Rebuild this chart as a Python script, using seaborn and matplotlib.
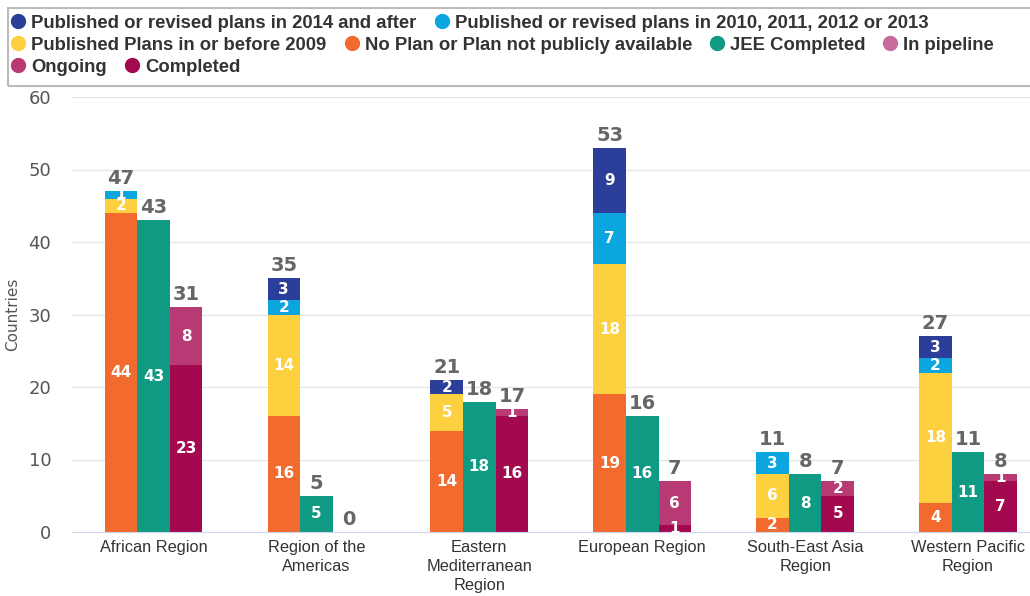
import matplotlib
matplotlib.use("Agg")
import matplotlib.pyplot as plt
from matplotlib.lines import Line2D
from matplotlib.patches import Rectangle
import pandas as pd
import seaborn as sns

regions = ["African Region", "Region of the\nAmericas", "Eastern\nMediterranean\nRegion",
           "European Region", "South-East Asia\nRegion", "Western Pacific\nRegion"]

no_plan = [44, 16, 14, 19, 2, 4]
plans_before_2009 = [2, 14, 5, 18, 6, 18]
plans_2010_2013 = [1, 2, 0, 7, 3, 2]
plans_2014_after = [0, 3, 2, 9, 0, 3]
jee_completed = [43, 5, 18, 16, 8, 11]
completed = [23, 0, 16, 1, 5, 7]
ongoing = [8, 0, 1, 6, 2, 1]
in_pipeline = [0, 0, 0, 0, 0, 0]

C_2014 = "#2b3f9a"
C_2010 = "#0ba5e0"
C_2009 = "#fdd040"
C_NOPLAN = "#f26a2e"
C_JEE = "#0e9a83"
C_PIPE = "#c86a9c"
C_ONGOING = "#b83a74"
C_DONE = "#a3094f"

groups = ["plans", "jee", "pipeline"]
layers = {
    "plans": [(no_plan, C_NOPLAN), (plans_before_2009, C_2009),
              (plans_2010_2013, C_2010), (plans_2014_after, C_2014)],
    "jee": [(jee_completed, C_JEE)],
    "pipeline": [(completed, C_DONE), (ongoing, C_ONGOING), (in_pipeline, C_PIPE)],
}

COND = ["Liberation Sans", "DejaVu Sans"]

sns.set_style("white")
plt.rcParams["font.family"] = ["DejaVu Sans"]
fig = plt.figure(figsize=(10.3, 5.96), dpi=100)
ax = fig.add_axes([72 / 1030, 1 - 532 / 596, 1 - 72 / 1030, (532 - 97) / 596])

# stacked bars: draw cumulative heights from the top layer down
for level in range(3, -1, -1):
    rows = []
    palette = {}
    for g in groups:
        k = min(level, len(layers[g]) - 1)
        palette[g] = layers[g][k][1]
        for i, r in enumerate(regions):
            h = sum(layers[g][j][0][i] for j in range(k + 1))
            rows.append({"region": r, "group": g, "height": h})
    df = pd.DataFrame(rows)
    sns.barplot(data=df, x="region", y="height", hue="group", hue_order=groups,
                order=regions, palette=palette, width=0.6, dodge=True,
                saturation=1, linewidth=0, legend=False, ax=ax)

# labels inside segments and totals on top
for gi, g in enumerate(groups):
    cont = ax.containers[-3 + gi]
    for i, patch in enumerate(cont.patches):
        xc = patch.get_x() + patch.get_width() / 2
        bottom = 0
        for vals, _ in layers[g]:
            v = vals[i]
            if v > 0:
                ax.text(xc, bottom + v / 2, str(v), ha="center", va="center",
                        color="white", fontsize=11, fontweight="bold")
            bottom += v
        ax.text(xc, bottom + 0.4, str(bottom), ha="center", va="bottom",
                color="#666666", fontsize=14, fontweight="bold")

ax.set_ylim(0, 60)
ax.set_xlim(-0.5, 5.38)
ax.set_yticks(range(0, 61, 10))
ax.grid(axis="y", color="#e6e6e6", linewidth=1)
ax.set_axisbelow(True)
for s in ["top", "right", "left"]:
    ax.spines[s].set_visible(False)
ax.spines["bottom"].set_color("#ccd6eb")
ax.set_xlabel("")
ax.set_ylabel("Countries", fontsize=11, color="#555555", labelpad=6)
ax.tick_params(axis="y", length=0, labelsize=13, labelcolor="#555555", pad=15)
ax.set_xticks(range(len(regions)), labels=regions, fontfamily=COND,
              fontsize=11.8, linespacing=1.3, color="#333333")
ax.tick_params(axis="x", which="major", length=0, pad=6)
ax.set_xticks([x - 0.5 for x in range(6)], minor=True)
ax.tick_params(axis="x", which="minor", length=9, color="#ccd6eb")

# legend box with three flowing rows
fig.patches.append(Rectangle((8 / 1030, 1 - 86 / 596), 1030 / 1030, 78 / 596,
                             transform=fig.transFigure, fill=False,
                             edgecolor="#bbbbbb", linewidth=1.5))
legend_rows = [
    [("Published or revised plans in 2014 and after", C_2014),
     ("Published or revised plans in 2010, 2011, 2012 or 2013", C_2010)],
    [("Published Plans in or before 2009", C_2009),
     ("No Plan or Plan not publicly available", C_NOPLAN),
     ("JEE Completed", C_JEE), ("In pipeline", C_PIPE)],
    [("Ongoing", C_ONGOING), ("Completed", C_DONE)],
]
row_y = [23, 45, 67]
for items, y in zip(legend_rows, row_y):
    handles = [Line2D([], [], marker="o", linestyle="", markersize=10,
                      markerfacecolor=c, markeredgecolor=c, label=t) for t, c in items]
    fig.legend(handles=handles, loc="center left", bbox_to_anchor=(12 / 1030, 1 - y / 596),
               ncol=len(items), frameon=False, handlelength=0.7, handletextpad=0.35,
               columnspacing=1.0, borderpad=0, borderaxespad=0,
               prop={"family": COND, "weight": "bold", "size": 13.3},
               labelcolor="#333333")

fig.savefig("out.png", dpi=100, facecolor="white")
